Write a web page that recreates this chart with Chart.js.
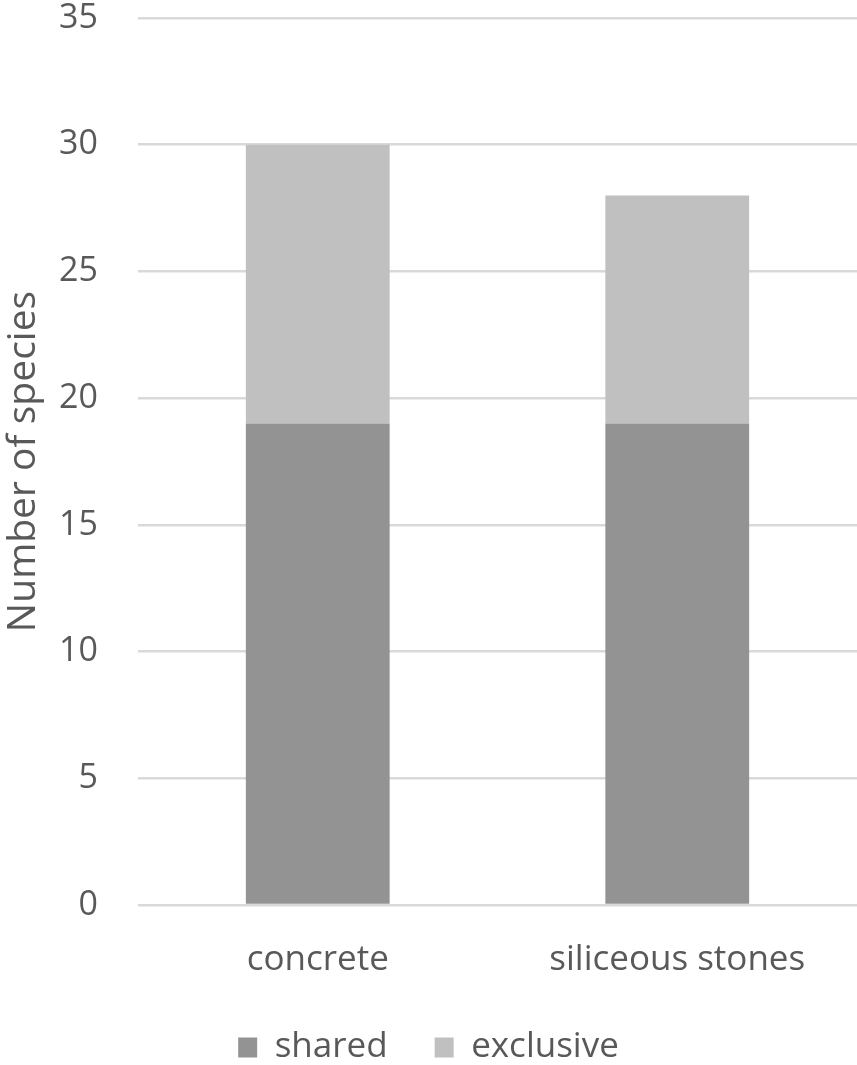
<!DOCTYPE html>
<html>
<head>
<meta charset="utf-8">
<script src="https://cdn.jsdelivr.net/npm/chart.js@4.4.1/dist/chart.umd.min.js"></script>
<style>
  html, body { margin: 0; padding: 0; background: #fff; }
  #wrap { width: 857px; height: 1065px; }
</style>
</head>
<body>
<div id="wrap"><canvas id="myChart"></canvas></div>
<script>
// data
var categorias = ['concrete', 'siliceous stones'];
var shared = [19, 19];
var exclusive = [11, 9];
var yTicks = [0, 5, 10, 15, 20, 25, 30, 35];

var fonte = '"Open Sans", sans-serif';
var cinzaTexto = '#595959';

var ctx = document.getElementById('myChart').getContext('2d');
var chart = new Chart(ctx, {
    type: 'bar',
    data: {
        labels: categorias,
        datasets: [{
            label: 'shared',
            data: shared,
            backgroundColor: '#939393',
            borderWidth: 0,
            categoryPercentage: 0.8,
            barPercentage: 0.5
        }, {
            label: 'exclusive',
            data: exclusive,
            backgroundColor: '#c0c0c0',
            borderWidth: 0,
            categoryPercentage: 0.8,
            barPercentage: 0.5
        }]
    },
    options: {
        responsive: true,
        maintainAspectRatio: false,
        devicePixelRatio: 1,
        animation: false,
        layout: { padding: 0 },
        plugins: {
            tooltip: { enabled: false },
            legend: {
                position: 'bottom',
                // legend padding is also the gap between items, so cap the height
                maxHeight: 82,
                labels: {
                    color: cinzaTexto,
                    font: { family: fonte, size: 35 },
                    boxWidth: 19,
                    boxHeight: 20,
                    padding: 47
                }
            }
        },
        scales: {
            x: {
                stacked: true,
                afterFit: function(scale) { scale.height = 78; },
                grid: { display: false, drawTicks: false },
                border: { display: false },
                ticks: {
                    color: cinzaTexto,
                    font: { family: fonte, size: 35 },
                    padding: 34
                }
            },
            y: {
                stacked: true,
                min: 0,
                max: 35,
                afterBuildTicks: function(scale) {
                    scale.ticks = yTicks.map(function(v) { return { value: v }; });
                },
                afterFit: function(scale) {
                    scale.width = 138;
                    scale.paddingTop = 18;
                    scale.paddingBottom = 0;
                },
                grid: { color: '#d9d9d9', lineWidth: 2.5, drawTicks: false },
                border: { display: false },
                ticks: {
                    color: cinzaTexto,
                    font: { family: fonte, size: 34 },
                    padding: 40
                },
                title: {
                    display: true,
                    text: 'Number of species',
                    color: cinzaTexto,
                    font: { family: fonte, size: 39 },
                    padding: 0
                }
            }
        }
    }
});
</script>
</body>
</html>
